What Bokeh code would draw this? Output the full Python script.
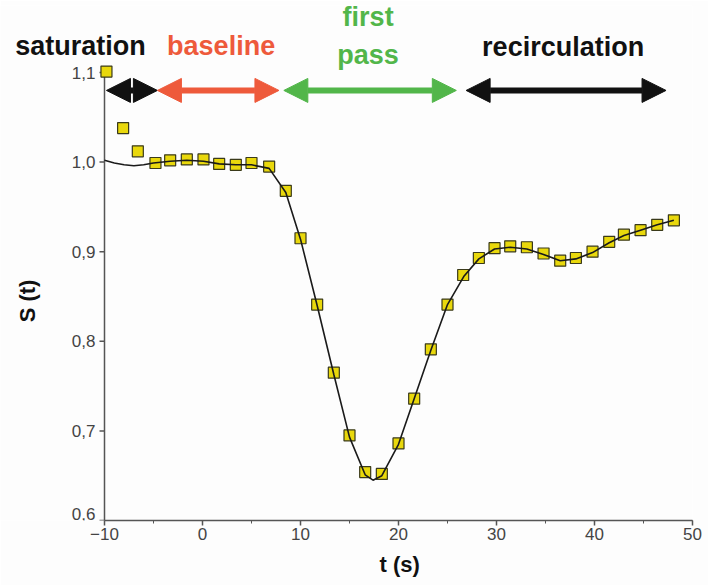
import numpy as np
from bokeh.plotting import figure
from bokeh.models import (Range1d, SingleIntervalTicker, Label, Arrow, NormalHead,
                          ColumnDataSource, Title)
from bokeh.embed import file_html
from bokeh.resources import INLINE

# ---- data ----
t_meas = [-9.8, -8.1, -6.6, -4.8, -3.3, -1.6, 0.1, 1.7, 3.4, 5.0, 6.8, 8.5,
          10.0, 11.7, 13.4, 15.0, 16.6, 18.3, 20.0, 21.6, 23.3, 25.0, 26.6,
          28.2, 29.8, 31.4, 33.1, 34.8, 36.5, 38.1, 39.8, 41.5, 43.0, 44.7,
          46.4, 48.1]
s_meas = [1.101, 1.038, 1.012, 0.999, 1.002, 1.003, 1.003, 0.998, 0.997,
          0.999, 0.995, 0.968, 0.915, 0.841, 0.765, 0.695, 0.654, 0.652,
          0.686, 0.736, 0.791, 0.841, 0.874, 0.893, 0.904, 0.906, 0.905,
          0.898, 0.890, 0.893, 0.900, 0.911, 0.919, 0.924, 0.930, 0.935]

t_fit = [-10, -9, -8, -7, -6, -5, -3.3, -1.6, 0.1, 1.7, 3.4, 5.0, 6.8, 8.5,
         10.0, 11.7, 13.4, 15.0, 16.6, 17.4, 18.3, 20.0, 21.6, 23.3, 25.0,
         26.7, 28.2, 29.8, 31.4, 33.1, 34.8, 36.5, 38.1, 39.8, 41.5, 43.0,
         44.7, 46.4, 48.1]
s_fit = [1.002, 0.999, 0.997, 0.996, 0.997, 0.999, 1.001, 1.002, 1.001,
         0.998, 0.997, 0.997, 0.993, 0.966, 0.914, 0.840, 0.763, 0.693,
         0.651, 0.645, 0.650, 0.685, 0.736, 0.790, 0.841, 0.873, 0.892,
         0.903, 0.905, 0.903, 0.897, 0.890, 0.892, 0.899, 0.910, 0.918,
         0.924, 0.930, 0.935]

phase_names = ["saturation", "baseline", "first\npass", "recirculation"]
phase_start = [-9.8, -4.6, 8.3, 26.9]
phase_end = [-4.6, 7.8, 25.9, 47.3]
phase_colors = ["#111111", "#ee5a3b", "#52b64a", "#111111"]
phase_label_x = [-12.45, 1.9, 16.9, 36.8]
phase_label_y = [1.130, 1.130, 1.141, 1.128]
arrow_level = 1.080

x_bounds = (-10, 50)
y_ticks = [0.6, 0.7, 0.8, 0.9, 1.0, 1.1]
y_tick_labels = ["0,6", "0,7", "0,8", "0,9", "1,0", "1,1"]
x_title = "t (s)"
y_title = "S (t)"

# ---- layout constants (pixels) ----
W, H = 708, 585
AXIS_PX = 104            # screen x of the y axis
PX_PER_T = 9.8
x_start = x_bounds[0] - AXIS_PX / PX_PER_T

p = figure(width=W, height=H, output_backend="svg", toolbar_location=None,
           x_range=Range1d(x_start, x_bounds[1]), y_range=Range1d(0.6, 1.1748),
           y_axis_location=None,
           min_border_left=0, min_border_right=16, min_border_top=5,
           min_border_bottom=65)
p.background_fill_color = "#fdfdfd"
p.border_fill_color = "#fdfdfd"
p.outline_line_color = None
p.grid.visible = False

axis_col = "#555555"
lab_col = "#444444"
ax = p.xaxis[0]
ax.bounds = x_bounds
ax.ticker = SingleIntervalTicker(interval=10, num_minor_ticks=2)
ax.axis_line_color = axis_col
ax.axis_line_width = 1.5
ax.major_tick_line_color = axis_col
ax.major_tick_line_width = 1.5
ax.minor_tick_line_color = axis_col
ax.major_tick_in = 0
ax.major_tick_out = 5
ax.minor_tick_in = 0
ax.minor_tick_out = 3
ax.major_label_text_font = "Liberation Sans"
ax.major_label_text_font_size = "17px"
ax.major_label_text_color = lab_col
ax.major_label_standoff = 2

title_kw = dict(text=x_title, align="left", offset=379,
                text_font="Liberation Sans", text_font_style="bold",
                text_font_size="22px", text_color="#111111")
if "standoff" in Title.properties():
    title_kw["standoff"] = 14
p.add_layout(Title(**title_kw), "below")

# y axis (drawn from the tick arrays at t = x_bounds[0])
p.segment(x0=[x_bounds[0]], y0=[y_ticks[0]], x1=[x_bounds[0]], y1=[y_ticks[-1] + 0.004],
          line_color=axis_col, line_width=1.5)
p.ray(x=[x_bounds[0]] * len(y_ticks), y=y_ticks, length=5, length_units="screen",
      angle=np.pi, line_color=axis_col, line_width=1.5)
# the lowest label is lifted so it stays inside the plotting frame
label_dy = [-7 if v == y_ticks[0] else 0 for v in y_ticks]
p.text(x=[x_bounds[0]] * len(y_ticks), y=y_ticks, text=y_tick_labels, x_offset=-9,
       y_offset=label_dy,
       text_align="right", text_baseline="middle", text_font_size="17px",
       text_color=lab_col, text_font={"value": "Liberation Sans"})
p.text(x=[x_bounds[0]], y=[0.845], text=[y_title], x_offset=-77, angle=np.pi / 2,
       text_align="center", text_baseline="middle", text_font_size="22px",
       text_font_style="bold", text_color="#111111",
       text_font={"value": "Liberation Sans"})

# measured points then fitted curve on top
src_m = ColumnDataSource(dict(t=t_meas, s=s_meas))
p.scatter("t", "s", source=src_m, marker="square", size=11,
          fill_color="#e9d80c", line_color="#3a3a1a", line_width=1.2)
p.line(t_fit, s_fit, line_color="#1a1a1a", line_width=1.6)

# phase arrows and labels
for name, x0, x1, col, lx, ly in zip(phase_names, phase_start, phase_end,
                                     phase_colors, phase_label_x, phase_label_y):
    p.add_layout(Arrow(x_start=x0, y_start=arrow_level, x_end=x1, y_end=arrow_level,
                       line_color=col, line_width=6,
                       start=NormalHead(size=24, fill_color=col, line_color=col),
                       end=NormalHead(size=24, fill_color=col, line_color=col)))
    p.add_layout(Label(x=lx, y=ly, text=name, text_align="center",
                       text_baseline="middle", text_font="Liberation Sans",
                       text_font_style="bold", text_font_size="27px",
                       text_color=col, text_line_height=1.25))

open("out.html", "w").write(file_html(p, INLINE))
